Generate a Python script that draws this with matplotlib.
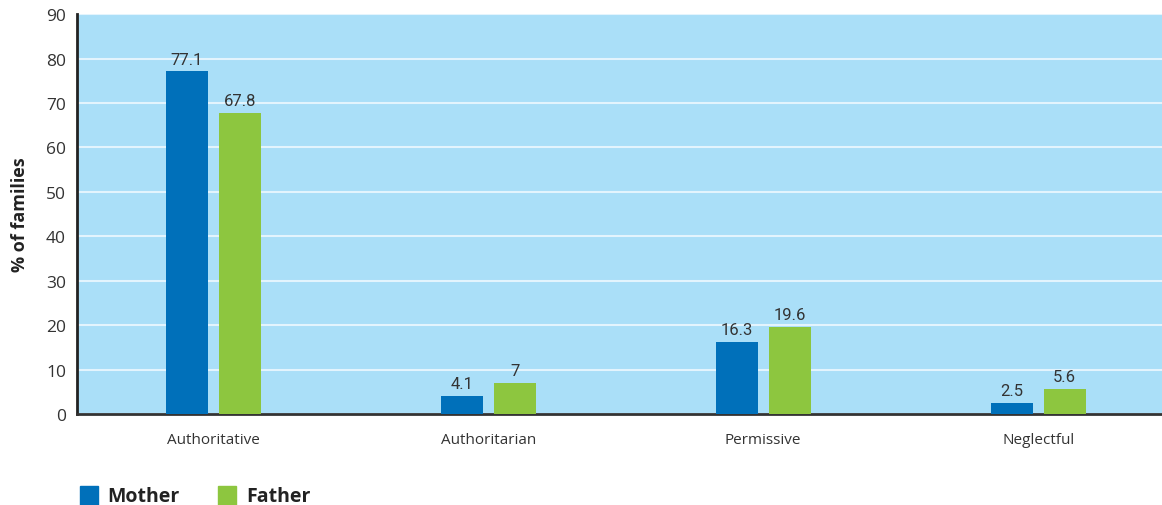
import numpy as np
import matplotlib.pyplot as plt
from matplotlib.patches import Rectangle

styles = ['Authoritative', 'Authoritarian', 'Permissive', 'Neglectful']
mother = [77.1, 4.1, 16.3, 2.5]
father = [67.8, 7, 19.6, 5.6]
mother_labels = ['77.1', '4.1', '16.3', '2.5']
father_labels = ['67.8', '7', '19.6', '5.6']

blue = '#0070ba'
green = '#8dc63f'

plt.rcParams['font.family'] = ['Open Sans', 'DejaVu Sans']

fig = plt.figure(figsize=(11.62, 5.06), dpi=100)
ax = fig.add_axes([0.0663, 0.18, 0.9337, 0.79])
ax.set_facecolor('#aadff8')

x = np.arange(len(styles))
w = 0.153
bm = ax.bar(x - 0.096, mother, w, color=blue, zorder=3)
bf = ax.bar(x + 0.096, father, w, color=green, zorder=3)

for bars, labs in ((bm, mother_labels), (bf, father_labels)):
    for b, t in zip(bars, labs):
        ax.text(b.get_x() + b.get_width() / 2, b.get_height() + 1.1, t,
                ha='center', va='bottom', fontsize=12, color='#333333',
                family=['Roboto', 'DejaVu Sans'])

ax.set_ylim(0, 90)
ax.set_xlim(-0.495, 3.45)
ax.set_yticks(range(0, 91, 10))
ax.set_xticks(x)
ax.set_xticklabels(styles)
ax.yaxis.grid(True, color='#e3f4fd', linewidth=1.5, zorder=1)
ax.tick_params(axis='x', length=0, pad=13, labelsize=11, labelcolor='#333333')
ax.tick_params(axis='y', length=0, pad=8, labelsize=12.5, labelcolor='#333333')

for s in ('top', 'right'):
    ax.spines[s].set_visible(False)
ax.spines['left'].set_linewidth(2)
ax.spines['left'].set_color('#222222')
ax.spines['bottom'].set_linewidth(2)
ax.spines['bottom'].set_color('#333333')
ax.set_ylabel('% of families', fontsize=13, fontweight='bold', color='#222222', labelpad=12)

# legend drawn by hand below the axes
fig.patches.append(Rectangle((80 / 1162, 0.0), 18 / 1162, 19 / 506,
                             transform=fig.transFigure, color=blue))
fig.text(107 / 1162, 1 - 497 / 506, 'Mother', fontsize=14, fontweight='bold',
         color='#222222', va='center')
fig.patches.append(Rectangle((218 / 1162, 0.0), 18 / 1162, 19 / 506,
                             transform=fig.transFigure, color=green))
fig.text(246 / 1162, 1 - 497 / 506, 'Father', fontsize=14, fontweight='bold',
         color='#222222', va='center')

fig.savefig('out.png', dpi=100)
